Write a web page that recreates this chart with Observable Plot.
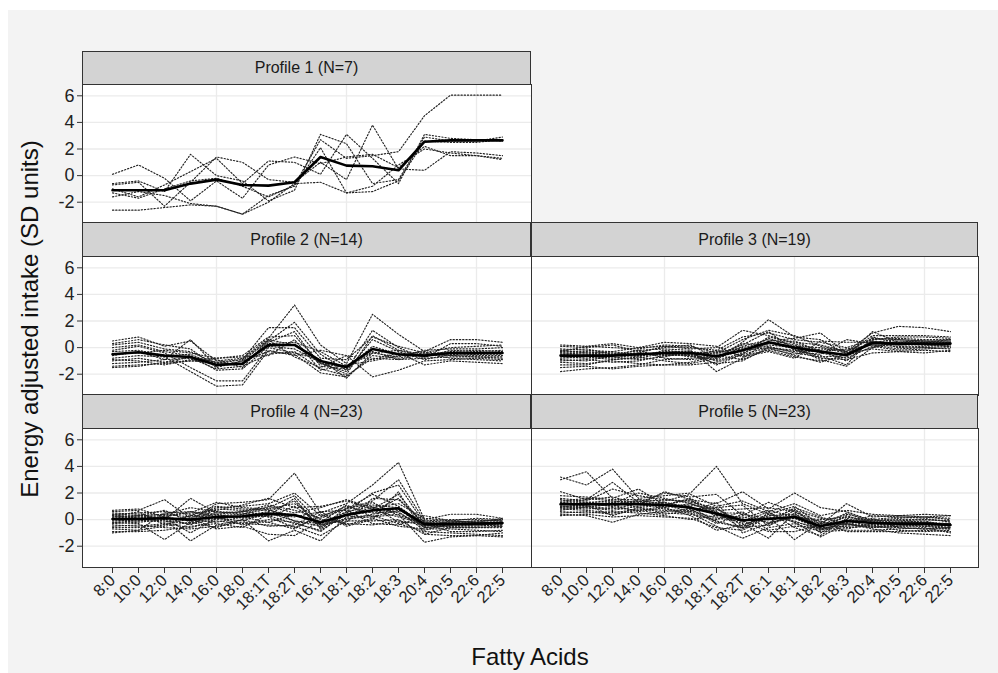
<!DOCTYPE html>
<html><head><meta charset="utf-8">
<script src="https://cdn.jsdelivr.net/npm/d3@7"></script>
<script src="https://cdn.jsdelivr.net/npm/@observablehq/plot@0.6"></script>
<style>
body{margin:0;background:#fff;font-family:"Liberation Sans",Arial,sans-serif;}
#wrap{position:relative;width:998px;height:673px;overflow:hidden;background:#fff;}
#bg{position:absolute;left:8px;top:10px;width:990px;height:663px;background:#f3f3f3;}
.strip{position:absolute;box-sizing:border-box;background:#d3d3d3;border:1px solid #333;font-size:16px;color:#1a1a1a;display:flex;align-items:center;justify-content:center;}
.panel{position:absolute;}
.title{position:absolute;white-space:nowrap;font-size:24px;color:#111;}
</style></head><body>
<div id="wrap"><div id="bg"></div></div>
<script>
const fattyAcids = ["8:0","10:0","12:0","14:0","16:0","18:0","18:1T","18:2T","16:1","18:1","18:2","18:3","20:4","20:5","22:6","22:5"];
const gridCats = ["16:0","18:1","22:6"];
const yTicks = [-2,0,2,4,6];
const profileTitles = ["Profile 1 (N=7)","Profile 2 (N=14)","Profile 3 (N=19)","Profile 4 (N=23)","Profile 5 (N=23)"];

const mean1 = [-1.1,-1.1,-1.1,-0.6,-0.3,-0.7,-0.75,-0.5,1.4,0.75,0.7,0.4,2.55,2.65,2.65,2.65];
const mean2 = [-0.5,-0.35,-0.6,-0.7,-1.3,-1.2,0.2,0.2,-1.0,-1.45,-0.1,-0.5,-0.6,-0.4,-0.4,-0.4];
const mean3 = [-0.6,-0.6,-0.6,-0.5,-0.4,-0.4,-0.65,-0.2,0.4,0.0,-0.3,-0.55,0.35,0.3,0.3,0.3];
const mean4 = [0.05,0.05,0.1,0.0,0.2,0.25,0.45,0.35,-0.2,0.35,0.7,0.85,-0.35,-0.35,-0.3,-0.25];
const mean5 = [1.15,1.15,1.15,1.15,1.1,0.9,0.45,-0.05,0.05,0.2,-0.5,-0.1,-0.25,-0.3,-0.3,-0.4];

const lines1 = [
[-1.3,-1.7,-1.0,-0.4,-0.2,-0.8,-1.6,-0.7,2.7,1.3,1.5,1.8,4.5,6.05,6.05,6.05],
[0.1,0.8,-0.2,-1.9,-0.4,-1.7,0.8,1.4,0.9,1.4,1.6,0.6,2.2,1.5,1.5,1.3],
[-0.6,-0.4,-1.2,1.6,0.0,-0.4,-1.9,-1.1,3.1,2.4,-0.6,-0.3,2.9,2.6,2.6,2.9],
[-0.7,-0.5,-2.3,-0.5,1.4,1.0,-0.3,-0.5,1.0,-0.3,3.8,0.5,0.4,1.8,1.7,1.5],
[-1.0,-1.6,-0.7,0.3,1.3,-0.6,1.1,1.0,0.1,3.1,1.3,-0.6,3.1,2.8,2.7,2.6],
[-1.6,-1.2,-1.5,-2.1,-2.3,-2.9,-1.5,-0.8,2.1,-1.3,-1.2,-0.4,2.6,2.5,2.5,2.7],
[-2.6,-2.6,-2.4,-2.2,-2.3,-2.9,-2.0,-0.6,-0.5,-1.3,-0.8,0.8,2.0,1.7,1.5,1.2]
];
const lines2 = [
[0.5,0.8,0.1,0.5,-1.0,-0.8,0.7,3.2,0.2,-1.2,2.5,1.0,-0.3,0.6,0.6,0.4],
[0.3,0.6,0.2,-0.1,-1.5,-1.0,0.5,1.9,-0.5,-1.7,1.3,0.0,-0.8,0.3,0.3,0.1],
[0.2,0.4,-0.1,-0.3,-1.2,-0.9,1.5,1.5,-0.8,-0.9,0.8,0.1,-0.4,0.0,0.1,0.2],
[-0.2,0.1,-0.4,-1.5,-2.5,-2.5,0.0,-0.4,-0.9,-2.3,-0.4,-0.7,-0.2,-0.1,-0.1,0.0],
[-0.5,-0.4,-0.2,-0.4,-0.8,-0.6,0.8,0.9,-1.2,-1.8,0.6,-0.3,-0.9,-0.5,-0.6,-0.6],
[-0.6,-0.3,-0.9,-0.8,-1.6,-1.4,-0.5,-0.3,-1.6,-2.1,-0.8,-0.9,-0.8,-0.7,-0.7,-0.8],
[-0.8,-0.6,-0.7,-1.8,-2.9,-2.8,-0.2,-0.6,-0.2,-0.6,-2.2,-1.7,-1.0,-0.9,-0.8,-0.9],
[-1.0,-0.8,-1.1,-1.0,-1.1,-1.3,0.4,1.2,-1.4,-1.6,0.1,-0.5,-0.6,-0.4,-0.5,-0.5],
[-1.2,-1.1,-0.9,0.6,-1.4,-1.0,-0.3,-0.5,-1.9,-2.2,-0.6,-0.8,-0.4,-0.8,-0.9,-1.0],
[-1.4,-1.3,-1.2,-1.0,-0.9,-1.5,0.6,-0.7,-1.5,-0.6,-0.9,-0.4,-1.3,-1.0,-1.1,-1.2],
[-0.3,-0.2,-0.6,-0.5,-1.3,-1.2,0.3,0.4,-0.3,-1.4,-0.3,-0.9,-0.5,-0.3,-0.2,-0.3],
[0.0,0.2,-0.3,-0.6,-1.7,-1.6,0.1,-0.1,-1.1,-2.0,0.9,-0.2,-0.7,-0.2,-0.3,-0.2],
[-0.9,-1.0,-1.3,-0.9,-0.8,-0.7,-0.6,0.6,-1.7,-1.3,-1.0,-0.6,-0.3,-0.6,-0.7,-0.7],
[-1.5,-1.4,-1.1,-0.7,-1.1,-0.9,0.6,0.2,-1.2,-1.5,-0.4,-0.2,-0.5,-0.6,-0.5,-0.4]
];
const lines3 = [
[0.2,0.1,0.0,-0.1,0.2,0.1,-0.4,0.6,1.3,0.9,0.1,-0.3,1.1,1.6,1.5,1.2],
[0.1,0.0,0.2,-0.3,0.0,0.2,-0.8,0.4,2.1,0.8,0.6,-0.5,0.9,0.9,0.9,0.8],
[-0.1,-0.2,-0.3,0.0,0.1,-0.1,0.0,1.3,0.9,0.3,-0.2,-1.0,0.6,0.8,0.8,0.7],
[-0.2,-0.4,-0.5,-0.2,-0.1,-0.2,-1.8,-0.8,0.5,0.7,1.1,-0.4,0.4,0.6,0.5,0.4],
[-0.3,-0.3,-0.4,-0.6,-0.3,-0.3,-0.5,0.2,1.2,-0.2,-0.6,-1.3,0.8,0.3,0.2,0.2],
[-0.4,-0.5,-0.6,-0.4,-0.6,-0.5,-1.0,-0.4,0.3,0.5,-0.3,-0.1,0.2,0.1,0.0,0.1],
[-0.5,-0.6,-0.5,-0.7,-0.2,-0.4,-0.3,-0.1,0.1,-0.4,-0.7,-0.6,1.2,0.4,0.3,0.3],
[-0.6,-0.6,-0.8,-0.5,-0.5,-0.6,-0.9,0.1,0.6,0.2,-0.4,-0.8,0.1,-0.2,-0.1,0.0],
[-0.7,-0.8,-0.7,-0.9,-0.7,-0.3,-1.3,-0.5,0.0,-0.3,-0.5,0.6,0.3,0.2,0.3,0.4],
[-0.8,-0.7,-0.9,-0.8,-0.4,-0.7,-0.2,-0.6,-0.2,-0.7,-1.0,-0.7,0.5,0.0,0.1,0.2],
[-0.9,-1.0,-0.6,-0.2,-0.8,-0.9,-0.7,-0.3,0.7,0.1,0.0,-0.4,-0.1,-0.3,-0.4,-0.2],
[-1.0,-0.9,-1.1,-1.0,-0.6,-0.5,-0.4,0.0,0.4,-0.1,-0.9,-1.4,0.0,0.5,0.4,0.6],
[-1.1,-1.2,-1.0,-1.2,-1.3,-1.1,-0.6,-0.9,-0.1,-0.5,-0.1,-0.2,0.2,-0.1,0.0,-0.1],
[-1.3,-1.3,-0.9,-0.7,-1.0,-1.2,-0.8,0.3,0.2,0.0,-0.8,-0.9,-0.4,-0.3,-0.2,-0.3],
[-1.5,-1.4,-1.6,-1.4,-1.3,-1.3,-1.1,-0.5,0.8,0.4,0.2,-0.3,0.7,0.6,0.5,0.5],
[-1.8,-1.6,-1.5,-1.3,-0.9,-0.8,-0.6,-0.2,0.0,-0.6,-1.1,-0.5,0.5,0.3,0.4,0.3],
[-0.3,0.1,0.3,0.0,0.4,0.3,0.1,-0.7,-0.3,-0.8,0.5,0.4,0.4,0.2,0.2,0.1],
[-0.4,-0.4,-0.3,-0.6,-0.5,-0.6,-1.2,-1.0,0.0,-0.2,-0.3,-0.6,0.0,0.4,0.5,0.5],
[-0.2,-0.1,-0.5,-0.4,0.1,0.0,-0.2,0.8,1.1,0.6,0.4,0.0,0.6,0.7,0.6,0.6]
];
const lines4 = [
[0.7,0.8,0.2,-0.1,1.2,1.3,1.5,3.5,0.5,1.2,2.6,4.3,0.0,0.4,0.4,0.1],
[0.6,0.7,1.5,0.1,0.9,1.0,1.2,2.0,0.3,0.8,1.4,3.0,-0.1,0.0,0.0,-0.1],
[0.5,0.4,0.0,1.6,0.5,0.6,0.9,1.8,-0.3,0.6,2.0,2.6,-0.3,-0.2,-0.1,0.0],
[0.4,0.5,0.6,0.4,0.7,1.1,1.6,0.9,1.0,1.4,0.8,1.9,-0.5,-0.3,-0.3,-0.2],
[0.3,0.2,0.3,0.5,1.3,0.9,0.8,1.2,0.0,-0.2,1.6,1.5,-0.2,-0.4,-0.4,-0.3],
[0.2,0.3,0.4,0.2,0.3,0.4,1.0,0.5,0.9,1.5,0.9,1.2,0.1,-0.1,-0.2,-0.2],
[0.1,0.1,-0.1,-0.3,0.0,0.3,0.6,1.4,-0.6,0.9,1.1,0.9,-0.6,-0.5,-0.5,-0.4],
[0.0,0.2,0.1,0.0,-0.2,0.2,-0.2,0.4,-0.4,0.3,0.6,1.6,-0.4,-0.6,-0.6,-0.5],
[0.0,-0.1,0.2,-0.4,0.6,0.5,0.2,-0.6,0.2,1.0,0.5,0.6,-0.8,-0.3,-0.2,-0.2],
[-0.1,0.0,-0.2,0.3,0.4,0.1,0.3,-0.3,-0.8,0.4,0.7,0.2,-0.3,-0.9,-0.9,-0.8],
[-0.2,-0.3,-1.5,-0.2,0.1,-0.1,0.5,-0.1,-0.5,0.1,0.2,0.4,-1.7,-1.3,-1.2,-1.3],
[-0.3,-0.2,0.0,-1.6,-0.4,0.0,-1.6,-0.8,-1.6,0.2,0.3,-0.3,-0.9,-1.0,-1.1,-1.2],
[-0.4,-0.5,-0.3,-0.6,-0.1,-0.3,-0.4,-0.5,-1.2,-0.1,-0.1,0.0,-1.1,-1.2,-1.2,-1.0],
[-0.5,-0.4,-0.6,-0.7,-0.5,-0.2,-0.2,-0.7,0.4,-0.4,0.1,-0.5,-0.7,-0.7,-0.8,-0.9],
[-0.6,-0.6,-0.4,0.1,-0.7,-0.5,-1.1,-1.2,-0.1,-0.3,-0.4,-0.1,-0.4,-0.5,-0.4,-0.5],
[-0.7,-0.8,0.5,0.6,0.2,-0.4,0.0,-0.2,-0.9,0.5,1.3,0.3,-0.2,-0.2,-0.3,-0.4],
[-0.9,-0.9,-0.8,-0.5,-0.3,-0.6,0.4,0.2,0.6,0.7,-0.3,-0.4,0.3,-0.1,0.1,0.0],
[-1.0,-0.8,-0.5,-0.2,0.8,0.7,0.2,1.0,-0.4,0.0,0.4,0.8,-0.6,-0.4,-0.3,-0.2],
[0.3,0.1,0.2,0.6,0.4,0.6,1.1,0.7,0.1,0.8,1.9,1.0,-0.4,-0.3,-0.4,-0.3],
[0.2,0.6,-0.4,0.3,1.0,0.8,0.7,0.3,-0.2,1.1,0.2,0.7,-0.1,-0.2,-0.1,-0.1],
[0.1,0.3,0.7,-0.2,-0.6,0.0,-0.5,-0.4,0.6,-0.5,0.0,2.1,-1.1,-0.6,-0.6,-0.6],
[-0.2,-0.1,0.1,-1.0,0.1,0.2,0.3,1.6,-0.7,0.6,1.0,-0.2,-0.2,-0.4,-0.3,-0.3],
[0.4,0.3,0.4,0.9,0.6,0.4,0.8,-0.1,-0.3,0.4,0.9,0.5,-0.5,-0.1,-0.2,0.1]
];
const lines5 = [
[3.2,2.6,3.8,1.6,1.8,2.0,4.0,1.2,0.4,1.0,-0.4,1.2,0.2,0.3,0.4,0.3],
[3.0,3.6,1.6,2.3,1.1,1.5,1.2,2.1,0.8,2.0,0.9,0.6,-0.1,0.1,0.2,0.1],
[2.1,1.5,2.8,1.3,2.0,1.7,1.9,0.3,1.3,0.6,-0.2,0.4,0.0,-0.1,0.0,-0.1],
[1.6,1.4,2.3,1.8,1.5,1.3,0.9,1.1,-0.5,0.7,0.1,-0.2,0.3,0.2,0.2,0.0],
[1.5,1.3,1.2,2.0,1.6,1.2,0.6,-0.7,0.5,-0.2,-0.6,0.3,-0.3,-0.2,-0.3,-0.3],
[1.4,1.6,1.4,1.1,2.1,1.5,0.2,0.0,0.0,0.8,-0.8,-0.1,-0.5,-0.4,-0.3,-0.4],
[1.3,1.2,1.0,1.4,0.8,0.6,1.3,-1.0,-0.3,0.3,-0.3,-0.4,0.1,-0.6,-0.7,-0.6],
[1.2,1.0,0.8,1.2,1.3,0.9,0.4,-0.3,-1.4,0.5,-1.0,0.0,-0.2,-0.3,-0.2,-0.3],
[1.1,1.1,1.3,0.9,0.5,0.4,0.0,0.6,-0.8,-0.5,-0.6,-0.5,-0.4,-0.8,-0.9,-0.8],
[1.0,0.9,0.7,1.0,1.2,1.0,-0.2,-0.6,0.2,-1.5,-0.2,-0.3,-0.6,-0.5,-0.5,-0.7],
[0.9,0.8,0.9,0.7,1.0,1.1,0.8,-0.2,0.6,-0.6,-1.2,0.1,-0.3,-0.2,-0.1,-0.5],
[0.8,0.7,0.5,0.8,0.7,0.5,-0.5,-1.4,-0.6,-0.3,-0.9,-0.8,-0.8,-0.7,-0.6,-1.0],
[0.7,1.0,1.1,0.6,0.9,0.3,-0.8,-0.4,0.3,0.4,-0.5,0.2,-0.1,-0.4,-0.4,-0.4],
[0.6,0.5,0.6,0.5,0.3,0.0,0.3,0.2,-0.2,0.1,-0.7,-0.3,-0.7,-1.0,-1.1,-1.2],
[0.5,0.6,0.4,0.7,0.4,0.7,0.1,-0.1,-0.9,-0.9,-0.4,-0.6,-0.5,-0.6,-0.7,-0.7],
[0.4,0.3,-0.2,0.4,0.6,0.8,-0.3,0.4,0.1,0.2,-0.1,-0.9,-0.9,-0.9,-0.8,-0.9],
[0.3,0.4,0.2,0.3,0.2,0.1,-0.6,-0.8,0.2,-0.1,-0.8,-0.2,0.0,0.2,0.1,-0.2],
[1.8,1.7,1.5,1.5,1.4,1.9,1.0,1.4,0.6,1.2,0.3,0.7,0.4,0.3,0.2,0.3],
[1.2,1.3,1.4,1.3,1.5,1.4,0.7,0.8,0.9,0.6,-0.5,0.5,-0.2,-0.1,-0.2,-0.4],
[0.9,1.2,1.0,1.5,1.1,1.6,0.5,0.5,-0.3,0.9,0.2,-0.4,-0.4,-0.3,-0.3,-0.5],
[1.3,1.5,1.7,1.2,1.3,0.8,0.9,-0.5,0.4,-0.2,-1.3,-0.3,-0.6,-0.5,-0.4,-0.6],
[1.0,0.9,1.2,1.4,0.9,1.2,0.5,0.1,0.7,0.2,0.0,0.2,-0.1,0.0,0.0,-0.1],
[0.8,1.1,0.3,0.9,1.1,0.6,-0.1,-0.6,-0.4,0.3,-0.7,-0.7,-0.3,-0.4,-0.5,-0.6]
];

const allLines = [lines1, lines2, lines3, lines4, lines5];
const allMeans = [mean1, mean2, mean3, mean4, mean5];

// layout
const colX = [82, 531];
const colW = [449, 447];
const stripTop = [51, 222, 394];
const stripH = [33, 34, 34];
const plotTop = [84, 256, 428];
const plotH = 139;
const cells = [[0,0],[0,1],[1,1],[0,2],[1,2]];
const hasXAxis = [false, false, false, true, true];

const wrap = document.getElementById("wrap");
const FONT = "'Liberation Sans', Arial, sans-serif";

profileTitles.forEach((title, i) => {
  const [c, r] = cells[i];
  const s = document.createElement("div");
  s.className = "strip";
  s.style.left = colX[c] + "px";
  s.style.top = stripTop[r] + "px";
  s.style.width = colW[c] + "px";
  s.style.height = (stripH[r] + 1) + "px";
  s.textContent = title;
  wrap.appendChild(s);

  const indiv = allLines[i].flatMap((row, id) => row.map((v, k) => ({fa: fattyAcids[k], v, id})));
  const meanData = allMeans[i].map((v, k) => ({fa: fattyAcids[k], v}));

  const ml = c === 0 ? 42 : 0;
  const mb = hasXAxis[i] ? 80 : 0;
  const marks = [
    Plot.frame({fill: "white"}),
    Plot.gridY(yTicks, {stroke: "#ebebeb", strokeOpacity: 1, strokeWidth: 1.3}),
    Plot.gridX(gridCats, {stroke: "#ebebeb", strokeOpacity: 1, strokeWidth: 1.3}),
    Plot.line(indiv, {x: "fa", y: "v", z: "id", stroke: "#222", strokeWidth: 1.15, strokeDasharray: "1.3,1.9"}),
    Plot.line(meanData, {x: "fa", y: "v", stroke: "#000", strokeWidth: 2.6}),
    Plot.frame({stroke: "#333", strokeWidth: 1})
  ];
  if (c === 0) marks.push(Plot.axisY(yTicks, {tickSize: 5, tickPadding: 3, fontSize: 18, fill: "#222", stroke: "#333", tickFormat: d => String(d), label: null}));
  if (hasXAxis[i]) marks.push(Plot.axisX({tickSize: 6, tickPadding: 4, fontSize: 16.5, tickRotate: -45, fill: "#222", stroke: "#333", label: null}));

  const chart = Plot.plot({
    width: ml + colW[c],
    height: plotH + mb,
    marginLeft: ml,
    marginRight: 0,
    marginTop: 0,
    marginBottom: mb,
    style: {background: "transparent", overflow: "visible", fontFamily: FONT},
    x: {type: "point", domain: fattyAcids, padding: 1.06, axis: null},
    y: {domain: [-3.6, 6.85], axis: null},
    marks
  });
  const holder = document.createElement("div");
  holder.className = "panel";
  holder.style.left = (colX[c] - ml) + "px";
  holder.style.top = plotTop[r] + "px";
  holder.appendChild(chart);
  wrap.appendChild(holder);
});

const yt = document.createElement("div");
yt.className = "title";
yt.textContent = "Energy adjusted intake (SD units)";
yt.style.left = "30px";
yt.style.top = "319px";
yt.style.transform = "translate(-50%,-50%) rotate(-90deg)";
wrap.appendChild(yt);

const xt = document.createElement("div");
xt.className = "title";
xt.textContent = "Fatty Acids";
xt.style.left = "530px";
xt.style.top = "657px";
xt.style.transform = "translate(-50%,-50%)";
wrap.appendChild(xt);
</script>
</body></html>
